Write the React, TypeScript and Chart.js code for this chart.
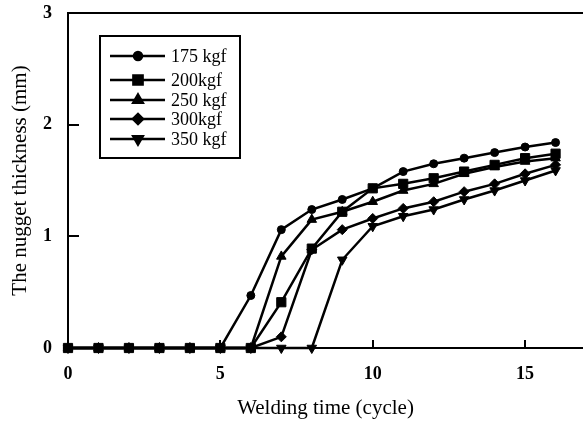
import React, { useEffect, useRef } from "react";
import { Chart, registerables } from "chart.js";
import { drawPoint } from "chart.js/helpers";

Chart.register(...registerables);

const cycles = [0, 1, 2, 3, 4, 5, 6, 7, 8, 9, 10, 11, 12, 13, 14, 15, 16];
const seriesLabels = ["175 kgf", "200kgf", "250 kgf", "300kgf", "350 kgf"];
const t175 = [0, 0, 0, 0, 0, 0, 0.47, 1.06, 1.24, 1.33, 1.43, 1.58, 1.65, 1.7, 1.75, 1.8, 1.84];
const t200 = [0, 0, 0, 0, 0, 0, 0, 0.41, 0.89, 1.22, 1.43, 1.47, 1.52, 1.58, 1.64, 1.7, 1.74];
const t250 = [0, 0, 0, 0, 0, 0, 0, 0.82, 1.15, 1.22, 1.31, 1.41, 1.47, 1.56, 1.62, 1.67, 1.7];
const t300 = [0, 0, 0, 0, 0, 0, 0, 0.1, 0.88, 1.06, 1.16, 1.25, 1.31, 1.4, 1.47, 1.56, 1.64];
const t350 = [0, 0, 0, 0, 0, 0, 0, 0, 0, 0.79, 1.09, 1.18, 1.24, 1.33, 1.41, 1.5, 1.59];
const xTicks = [0, 5, 10, 15];
const yTicks = [0, 1, 2, 3];
const xTitle = "Welding time (cycle)";
const yTitle = "The nugget thickness (mm)";

const FONT = "'Liberation Serif', 'Times New Roman', serif";

const decorPlugin = {
  id: "decor",
  afterDraw(chart: any) {
    const ctx = chart.ctx;
    const { left, right, top, bottom } = chart.chartArea;
    const xs = chart.scales.x;
    const ys = chart.scales.y;
    ctx.save();
    ctx.strokeStyle = "#000";
    ctx.lineWidth = 2;
    // top border
    ctx.beginPath();
    ctx.moveTo(left, top);
    ctx.lineTo(right + 2, top);
    ctx.stroke();
    // inner ticks
    ctx.beginPath();
    xTicks.forEach((v) => {
      const px = Math.round(xs.getPixelForValue(v));
      ctx.moveTo(px, bottom);
      ctx.lineTo(px, bottom - 8);
    });
    yTicks.forEach((v) => {
      const py = Math.round(ys.getPixelForValue(v));
      ctx.moveTo(left, py);
      ctx.lineTo(left + 11, py);
    });
    ctx.stroke();

    // legend
    const rows = [56, 80, 100, 119, 139];
    ctx.lineWidth = 2;
    ctx.strokeRect(100, 36, 140, 122);
    chart.data.datasets.forEach((ds: any, i: number) => {
      const y = rows[i];
      ctx.strokeStyle = "#000";
      ctx.fillStyle = "#000";
      ctx.lineWidth = 2.5;
      ctx.beginPath();
      ctx.moveTo(110, y);
      ctx.lineTo(165, y);
      ctx.stroke();
      drawPoint(
        ctx,
        {
          pointStyle: ds.pointStyle,
          rotation: ds.pointRotation || 0,
          radius: ds.pointRadius,
          borderWidth: 1,
        },
        138,
        y
      );
      ctx.font = `18px ${FONT}`;
      ctx.textBaseline = "middle";
      ctx.textAlign = "left";
      ctx.fillText(ds.label, 171, y + 1);
    });
    ctx.restore();
  },
};

function mk(label: string, vals: number[], style: string, radius: number, extra: any = {}) {
  return {
    label,
    data: cycles.map((c, i) => ({ x: c, y: vals[i] })),
    borderColor: "#000",
    backgroundColor: "#000",
    borderWidth: 2.5,
    pointStyle: style,
    pointRadius: radius,
    pointBorderWidth: 1,
    pointBackgroundColor: "#000",
    pointBorderColor: "#000",
    tension: 0,
    clip: false,
    ...extra,
  };
}

export default function App() {
  const ref = useRef<HTMLCanvasElement>(null);
  useEffect(() => {
    if (!ref.current) return;
    const chart = new Chart(ref.current, {
      type: "line",
      data: {
        datasets: [
          mk(seriesLabels[0], t175, "circle", 4),
          mk(seriesLabels[1], t200, "rect", 6.5, { order: -1 }),
          mk(seriesLabels[2], t250, "triangle", 5.5),
          mk(seriesLabels[3], t300, "rectRot", 5),
          mk(seriesLabels[4], t350, "triangle", 5.5, { pointRotation: 180 }),
        ],
      },
      options: {
        animation: false,
        responsive: false,
        events: [],
        layout: { autoPadding: false, padding: { top: 13, right: 0, left: 0, bottom: 0 } },
        plugins: { legend: { display: false }, tooltip: { enabled: false } },
        scales: {
          x: {
            type: "linear",
            min: 0,
            max: 16.9,
            grid: { display: false, drawTicks: false },
            border: { display: true, color: "#000", width: 2 },
            afterBuildTicks: (s: any) => {
              s.ticks = xTicks.map((v) => ({ value: v }));
            },
            afterFit: (s: any) => {
              s.height = 73;
              s.paddingLeft = 0;
              s.paddingRight = 0;
            },
            ticks: {
              color: "#000",
              padding: 16,
              maxRotation: 0,
              font: { family: FONT, size: 18, weight: "bold" },
            },
            title: {
              display: true,
              text: xTitle,
              color: "#000",
              font: { family: FONT, size: 21 },
              padding: { top: 0, bottom: 0 },
            },
          },
          y: {
            min: 0,
            max: 3,
            grid: { display: false, drawTicks: false },
            border: { display: true, color: "#000", width: 2 },
            afterBuildTicks: (s: any) => {
              s.ticks = yTicks.map((v) => ({ value: v }));
            },
            afterFit: (s: any) => {
              s.width = 68;
              s.paddingTop = 0;
              s.paddingBottom = 0;
            },
            ticks: {
              color: "#000",
              padding: 16,
              font: { family: FONT, size: 18, weight: "bold" },
            },
            title: {
              display: true,
              text: yTitle,
              color: "#000",
              font: { family: FONT, size: 21 },
              padding: { top: 8, bottom: 0 },
            },
          },
        },
      },
      plugins: [decorPlugin],
    });
    return () => chart.destroy();
  }, []);
  return (
    <div style={{ position: "absolute", left: 0, top: 0, width: 583, height: 421, background: "#fff" }}>
      <canvas ref={ref} width={583} height={421} style={{ display: "block" }} />
    </div>
  );
}
